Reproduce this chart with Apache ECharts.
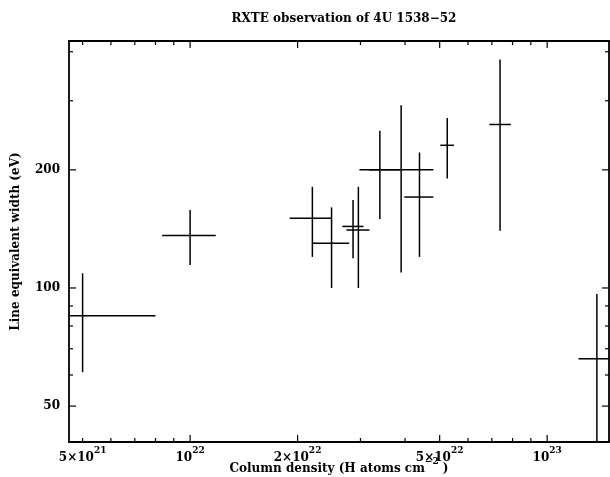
<!DOCTYPE html>
<html>
<head>
<meta charset="utf-8">
<script src="https://cdn.jsdelivr.net/npm/echarts@6/dist/echarts.min.js"></script>
<style>
  html, body { margin: 0; background: #fff; }
  #main { width: 610px; height: 477px; }
</style>
</head>
<body>
<div id="main"></div>
<script>
// column density, H atoms cm^-2 (centre, low, high)
var nH     = [5.0e21, 1.0e22,  2.20e22, 2.49e22, 2.86e22, 2.96e22, 3.40e22, 3.90e22, 4.39e22, 5.25e22, 7.38e22, 1.378e23];
var nHLow  = [4.5e21, 8.35e21, 1.90e22, 2.20e22, 2.67e22, 2.74e22, 2.98e22, 3.17e22, 3.98e22, 5.02e22, 6.89e22, 1.224e23];
var nHHigh = [8.0e21, 1.18e22, 2.49e22, 2.79e22, 3.06e22, 3.18e22, 3.87e22, 4.80e22, 4.80e22, 5.48e22, 7.91e22, 1.55e23];
// line equivalent width, eV (centre, low, high)
var ew     = [85,  136,   150.5, 130,   143.5, 140.5, 200,   200,   170.5, 231, 261, 66];
var ewLow  = [61,  114.5, 120,   100,   119,   100,   150,   109.5, 120,   190, 140, 35];
var ewHigh = [109, 158,   181,   160.5, 167.5, 181,   251.5, 292,   221.5, 271, 382, 96.5];

// axis ranges and ticks
var XMIN = 4.58e21, XMAX = 1.49e23;
var YMIN = 40.5, YMAX = 426;
var xMajorTicks = [1e22, 2e22, 5e22, 1e23];
var xMinorTicks = [5e21, 6e21, 7e21, 8e21, 9e21, 3e22, 4e22, 6e22, 7e22, 8e22, 9e22];
var xLabelValues = [5e21, 1e22, 2e22, 5e22, 1e23];
var xLabelTexts = ['5×10{s|21}', '10{s|22}', '2×10{s|22}', '5×10{s|22}', '10{s|23}'];
var yMajorTicks = [50, 100, 200];
var yMinorTicks = [60, 70, 80, 90, 300, 400];
var yLabelValues = [50, 100, 200];
var yLabelTexts = ['50', '100', '200'];

var FONT = '"DejaVu Serif", serif';

var chart = echarts.init(document.getElementById('main'));

function clamp(v, a, b) { return Math.max(a, Math.min(b, v)); }

// 误差棒
function renderErrorBar(params, api) {
  var cs = params.coordSys;
  var c  = api.coord([api.value(0), api.value(3)]);
  var x1 = clamp(api.coord([api.value(1), api.value(3)])[0], cs.x, cs.x + cs.width);
  var x2 = clamp(api.coord([api.value(2), api.value(3)])[0], cs.x, cs.x + cs.width);
  var y1 = clamp(api.coord([api.value(0), api.value(4)])[1], cs.y, cs.y + cs.height);
  var y2 = clamp(api.coord([api.value(0), api.value(5)])[1], cs.y, cs.y + cs.height);
  var st = { stroke: '#000', lineWidth: 1.5 };
  return {
    type: 'group',
    children: [
      { type: 'line', shape: { x1: x1, y1: c[1], x2: x2, y2: c[1] }, style: st },
      { type: 'line', shape: { x1: c[0], y1: y1, x2: c[0], y2: y2 }, style: st }
    ]
  };
}

// ticks on bottom and top
function renderXTick(params, api) {
  var cs = params.coordSys;
  var x = api.coord([api.value(0), api.value(1)])[0];
  var len = api.value(2) ? 7 : 4;
  var b = cs.y + cs.height, t = cs.y;
  var st = { stroke: '#000', lineWidth: 1.2 };
  return {
    type: 'group',
    children: [
      { type: 'line', shape: { x1: x, y1: b, x2: x, y2: b - len }, style: st },
      { type: 'line', shape: { x1: x, y1: t, x2: x, y2: t + len }, style: st }
    ]
  };
}

// ticks on left and right
function renderYTick(params, api) {
  var cs = params.coordSys;
  var y = api.coord([api.value(0), api.value(1)])[1];
  var len = api.value(2) ? 7 : 4;
  var l = cs.x, r = cs.x + cs.width;
  var st = { stroke: '#000', lineWidth: 1.2 };
  return {
    type: 'group',
    children: [
      { type: 'line', shape: { x1: l, y1: y, x2: l + len, y2: y }, style: st },
      { type: 'line', shape: { x1: r, y1: y, x2: r - len, y2: y }, style: st }
    ]
  };
}

var supRich = {
  b: { fontFamily: FONT, fontWeight: 'bold', fontSize: 12, lineHeight: 18, verticalAlign: 'bottom', color: '#000' },
  s: { fontFamily: FONT, fontWeight: 'bold', fontSize: 9, lineHeight: 10, verticalAlign: 'top', color: '#000' }
};

function renderXLabel(params, api) {
  var cs = params.coordSys;
  var x = api.coord([api.value(0), api.value(1)])[0];
  var txt = xLabelTexts[params.dataIndex].replace(/^([^{]+)/, '{b|$1}');
  return {
    type: 'text',
    style: {
      x: x, y: cs.y + cs.height + 4,
      text: txt, rich: supRich,
      align: 'center', verticalAlign: 'top'
    }
  };
}

function renderYLabel(params, api) {
  var cs = params.coordSys;
  var y = api.coord([api.value(0), api.value(1)])[1];
  return {
    type: 'text',
    style: {
      x: cs.x - 9, y: y,
      text: yLabelTexts[params.dataIndex],
      font: 'bold 12px ' + FONT, fill: '#000',
      align: 'right', verticalAlign: 'middle'
    }
  };
}

var points = nH.map(function (v, i) {
  return [v, nHLow[i], nHHigh[i], ew[i], ewLow[i], ewHigh[i]];
});
var xTickData = xMajorTicks.map(function (v) { return [v, YMIN, 1]; })
  .concat(xMinorTicks.map(function (v) { return [v, YMIN, 0]; }));
var yTickData = yMajorTicks.map(function (v) { return [XMIN, v, 1]; })
  .concat(yMinorTicks.map(function (v) { return [XMIN, v, 0]; }));
var xLabelData = xLabelValues.map(function (v) { return [v, YMIN]; });
var yLabelData = yLabelValues.map(function (v) { return [XMIN, v]; });

var frameLine = { show: true, onZero: false, lineStyle: { color: '#000', width: 1.8 } };

function logAxis(pos, min, max, extra) {
  var a = {
    type: 'log', logBase: 10, position: pos, min: min, max: max,
    axisLine: frameLine,
    axisTick: { show: false },
    axisLabel: { show: false },
    splitLine: { show: false },
    minorTick: { show: false }
  };
  return Object.assign(a, extra || {});
}

var option = {
  animation: false,
  backgroundColor: '#fff',
  title: {
    text: 'RXTE observation of 4U 1538\u221252',
    left: 339, top: 8, textAlign: 'center',
    textStyle: { fontFamily: FONT, fontWeight: 'bold', fontSize: 12, color: '#000' }
  },
  grid: { left: 69, right: 1, top: 41, bottom: 35, outerBoundsMode: 'none', containLabel: false },
  xAxis: [
    logAxis('bottom', XMIN, XMAX, {
      name: '{b|Column density (H atoms cm}{s|\u22122}{b| )}',
      nameLocation: 'middle', nameGap: 15,
      nameTextStyle: {
        fontFamily: FONT, fontWeight: 'bold', fontSize: 12, color: '#000',
        rich: supRich
      }
    }),
    logAxis('top', XMIN, XMAX)
  ],
  yAxis: [
    logAxis('left', YMIN, YMAX, {
      name: 'Line equivalent width (eV)',
      nameLocation: 'middle', nameGap: 47, nameRotate: 90,
      nameTextStyle: { fontFamily: FONT, fontWeight: 'bold', fontSize: 12, color: '#000' }
    }),
    logAxis('right', YMIN, YMAX)
  ],
  series: [
    { type: 'custom', name: 'xticks', silent: true, data: xTickData, encode: { x: 0, y: 1 }, renderItem: renderXTick },
    { type: 'custom', name: 'yticks', silent: true, data: yTickData, encode: { x: 0, y: 1 }, renderItem: renderYTick },
    { type: 'custom', name: 'xlabels', silent: true, data: xLabelData, encode: { x: 0, y: 1 }, renderItem: renderXLabel },
    { type: 'custom', name: 'ylabels', silent: true, data: yLabelData, encode: { x: 0, y: 1 }, renderItem: renderYLabel },
    { type: 'custom', name: 'points', silent: true, data: points, encode: { x: [0, 1, 2], y: [3, 4, 5] }, renderItem: renderErrorBar }
  ]
};

chart.setOption(option);
</script>
</body>
</html>
